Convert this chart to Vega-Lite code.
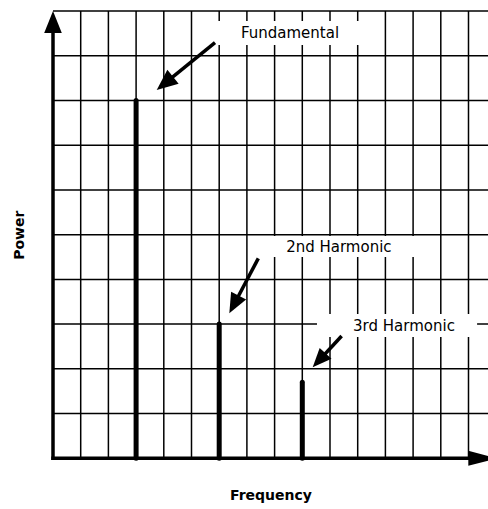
{
  "$schema": "https://vega.github.io/schema/vega-lite/v6.json",
  "autosize": "none",
  "padding": {"left": 53, "top": 11, "right": 0, "bottom": 50.7},
  "width": 435,
  "height": 447.3,
  "background": "white",
  "config": {
    "view": {"stroke": null},
    "font": "DejaVu Sans",
    "axis": {"labels": false, "ticks": false, "domain": false, "grid": false,
      "titleFontSize": 14, "titleFont": "DejaVu Sans", "titleFontWeight": "bold", "titleColor": "black"},
    "axisX": {"titlePadding": 30},
    "axisY": {"titlePadding": 27}
  },
  "datasets": {
    "vgrid": [{"f": 1}, {"f": 2}, {"f": 3}, {"f": 4}, {"f": 5}, {"f": 6}, {"f": 7}, {"f": 8}, {"f": 9}, {"f": 10}, {"f": 11}, {"f": 12}, {"f": 13}, {"f": 14}, {"f": 15}],
    "hgrid": [{"p": 1}, {"p": 2}, {"p": 3}, {"p": 4}, {"p": 5}, {"p": 6}, {"p": 7}, {"p": 8}, {"p": 9}, {"p": 10}],
    "boxes": [
      {"label": "Fundamental", "x1": 5.92, "x2": 11.16, "y1": 9.777, "y2": 9.24},
      {"label": "2nd Harmonic", "x1": 7.65, "x2": 13.07, "y1": 4.97, "y2": 4.5},
      {"label": "3rd Harmonic", "x1": 9.53, "x2": 15.31, "y1": 3.226, "y2": 2.712}
    ],
    "axes": [
      {"axis": "Power", "x1": 0, "y1": 0, "x2": 0, "y2": 9.6},
      {"axis": "Frequency", "x1": 0, "y1": 0, "x2": 15.3, "y2": 0}
    ],
    "bars": [
      {"harmonic": "Fundamental", "freq": 3, "power": 8},
      {"harmonic": "2nd Harmonic", "freq": 6, "power": 3},
      {"harmonic": "3rd Harmonic", "freq": 9, "power": 1.7}
    ],
    "shafts": [
      {"label": "Fundamental", "x1": 5.848, "y1": 9.291, "x2": 4.025, "y2": 8.375},
      {"label": "2nd Harmonic", "x1": 7.412, "y1": 4.471, "x2": 6.534, "y2": 3.438},
      {"label": "3rd Harmonic", "x1": 10.42, "y1": 2.734, "x2": 9.621, "y2": 2.198}
    ],
    "heads": [
      {"label": "Power", "x": 0, "y": 10},
      {"label": "Frequency", "x": 16.03, "y": 0},
      {"label": "Fundamental", "x": 3.744, "y": 8.234},
      {"label": "2nd Harmonic", "x": 6.365, "y": 3.242},
      {"label": "3rd Harmonic", "x": 9.375, "y": 2.034}
    ],
    "labels": [
      {"label": "Fundamental", "x": 8.556, "y": 9.396},
      {"label": "2nd Harmonic", "x": 10.32, "y": 4.619},
      {"label": "3rd Harmonic", "x": 12.67, "y": 2.846}
    ]
  },
  "layer": [
    {
      "data": {"name": "vgrid"},
      "mark": {"type": "rule", "color": "black", "strokeWidth": 1.5},
      "encoding": {
        "x": {"field": "f", "type": "quantitative", "title": "Frequency",
          "scale": {"domain": [0, 15.704], "nice": false, "zero": false}}
      }
    },
    {
      "data": {"name": "hgrid"},
      "mark": {"type": "rule", "color": "black", "strokeWidth": 1.5},
      "encoding": {
        "y": {"field": "p", "type": "quantitative", "title": "Power",
          "scale": {"domain": [0, 10], "nice": false, "zero": false}}
      }
    },
    {
      "data": {"name": "boxes"},
      "mark": {"type": "rect", "fill": "white", "strokeWidth": 0},
      "encoding": {
        "x": {"field": "x1", "type": "quantitative", "title": "Frequency", "scale": {"domain": [0, 15.704], "nice": false, "zero": false}},
        "x2": {"field": "x2"},
        "y": {"field": "y1", "type": "quantitative", "title": "Power", "scale": {"domain": [0, 10], "nice": false, "zero": false}},
        "y2": {"field": "y2"}
      }
    },
    {
      "data": {"name": "axes"},
      "mark": {"type": "rule", "color": "black", "strokeWidth": 3.5, "strokeCap": "square"},
      "encoding": {
        "x": {"field": "x1", "type": "quantitative", "title": "Frequency", "scale": {"domain": [0, 15.704], "nice": false, "zero": false}},
        "x2": {"field": "x2"},
        "y": {"field": "y1", "type": "quantitative", "title": "Power", "scale": {"domain": [0, 10], "nice": false, "zero": false}},
        "y2": {"field": "y2"}
      }
    },
    {
      "data": {"name": "bars"},
      "mark": {"type": "rule", "color": "black", "strokeWidth": 5, "strokeCap": "round"},
      "encoding": {
        "x": {"field": "freq", "type": "quantitative", "title": "Frequency", "scale": {"domain": [0, 15.704], "nice": false, "zero": false}},
        "y": {"field": "power", "type": "quantitative", "title": "Power", "scale": {"domain": [0, 10], "nice": false, "zero": false}},
        "y2": {"datum": 0}
      }
    },
    {
      "data": {"name": "shafts"},
      "mark": {"type": "rule", "color": "black", "strokeWidth": 3.5},
      "encoding": {
        "x": {"field": "x1", "type": "quantitative", "title": "Frequency", "scale": {"domain": [0, 15.704], "nice": false, "zero": false}},
        "x2": {"field": "x2"},
        "y": {"field": "y1", "type": "quantitative", "title": "Power", "scale": {"domain": [0, 10], "nice": false, "zero": false}},
        "y2": {"field": "y2"}
      }
    },
    {
      "data": {"name": "heads"},
      "transform": [{"filter": "datum.label === 'Power'"}],
      "mark": {"type": "point", "filled": true, "color": "black", "opacity": 1, "shape": "M0,0L0.8,2L-0.8,2Z", "size": 484, "angle": 0},
      "encoding": {
        "x": {"field": "x", "type": "quantitative", "title": "Frequency", "scale": {"domain": [0, 15.704], "nice": false, "zero": false}},
        "y": {"field": "y", "type": "quantitative", "title": "Power", "scale": {"domain": [0, 10], "nice": false, "zero": false}}
      }
    },
    {
      "data": {"name": "heads"},
      "transform": [{"filter": "datum.label === 'Frequency'"}],
      "mark": {"type": "point", "filled": true, "color": "black", "opacity": 1, "shape": "M0,0L1,3.83L-1,3.83Z", "size": 225, "angle": 90},
      "encoding": {
        "x": {"field": "x", "type": "quantitative", "title": "Frequency", "scale": {"domain": [0, 15.704], "nice": false, "zero": false}},
        "y": {"field": "y", "type": "quantitative", "title": "Power", "scale": {"domain": [0, 10], "nice": false, "zero": false}}
      }
    },
    {
      "data": {"name": "heads"},
      "transform": [{"filter": "datum.label === 'Fundamental'"}],
      "mark": {"type": "point", "filled": true, "color": "black", "opacity": 1, "shape": "M0,0L0.85,2L-0.85,2Z", "size": 441, "angle": 230.9},
      "encoding": {
        "x": {"field": "x", "type": "quantitative", "title": "Frequency", "scale": {"domain": [0, 15.704], "nice": false, "zero": false}},
        "y": {"field": "y", "type": "quantitative", "title": "Power", "scale": {"domain": [0, 10], "nice": false, "zero": false}}
      }
    },
    {
      "data": {"name": "heads"},
      "transform": [{"filter": "datum.label === '2nd Harmonic'"}],
      "mark": {"type": "point", "filled": true, "color": "black", "opacity": 1, "shape": "M0,0L0.85,2L-0.85,2Z", "size": 400, "angle": 207.8},
      "encoding": {
        "x": {"field": "x", "type": "quantitative", "title": "Frequency", "scale": {"domain": [0, 15.704], "nice": false, "zero": false}},
        "y": {"field": "y", "type": "quantitative", "title": "Power", "scale": {"domain": [0, 10], "nice": false, "zero": false}}
      }
    },
    {
      "data": {"name": "heads"},
      "transform": [{"filter": "datum.label === '3rd Harmonic'"}],
      "mark": {"type": "point", "filled": true, "color": "black", "opacity": 1, "shape": "M0,0L0.85,2L-0.85,2Z", "size": 361, "angle": 222.8},
      "encoding": {
        "x": {"field": "x", "type": "quantitative", "title": "Frequency", "scale": {"domain": [0, 15.704], "nice": false, "zero": false}},
        "y": {"field": "y", "type": "quantitative", "title": "Power", "scale": {"domain": [0, 10], "nice": false, "zero": false}}
      }
    },
    {
      "data": {"name": "labels"},
      "mark": {"type": "text", "align": "center", "baseline": "alphabetic", "font": "DejaVu Sans", "fontSize": 15, "color": "black"},
      "encoding": {
        "x": {"field": "x", "type": "quantitative", "title": "Frequency", "scale": {"domain": [0, 15.704], "nice": false, "zero": false}},
        "y": {"field": "y", "type": "quantitative", "title": "Power", "scale": {"domain": [0, 10], "nice": false, "zero": false}},
        "text": {"field": "label"}
      }
    }
  ]
}
